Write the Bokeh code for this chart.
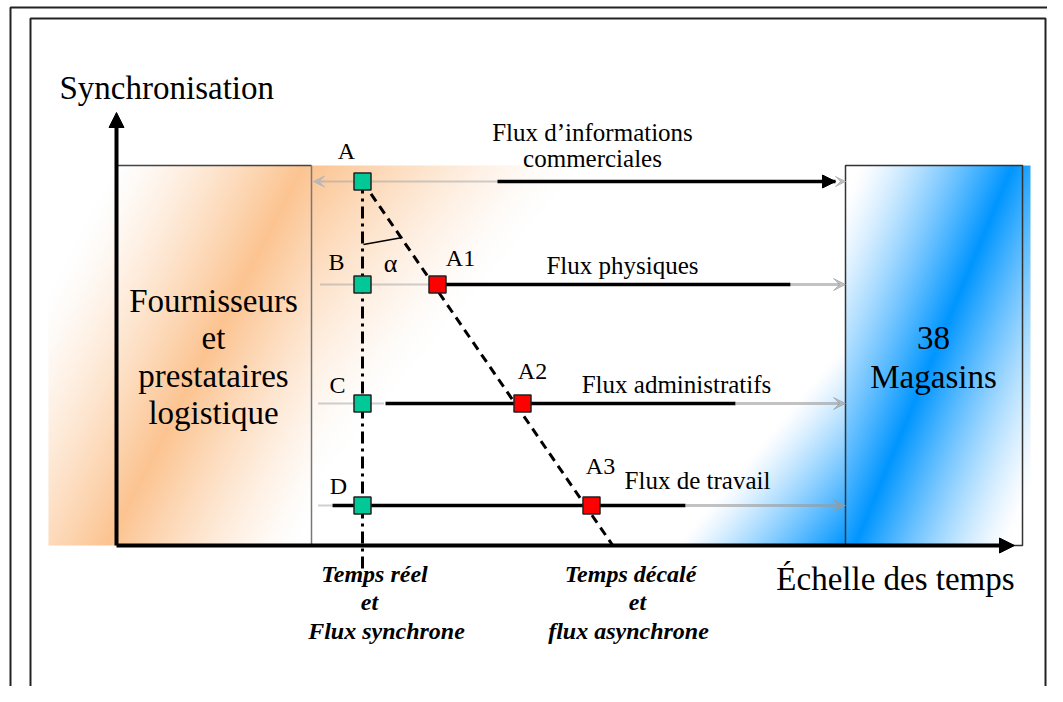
import numpy as np
from bokeh.plotting import figure
from bokeh.models import Range1d, Arrow, NormalHead, VeeHead
from bokeh.core.properties import value
from bokeh.embed import file_html
from bokeh.resources import INLINE

SERIF = value("Liberation Serif")

# ---------------- data (schematic coordinates) ----------------
sync_names = ["A", "B", "C", "D"]
flow_y = [181, 284, 403, 505]              # synchronisation level of each flow
real_time_x = 362                           # "temps réel" position
delayed_names = ["A1", "A2", "A3"]
delayed_x = [437, 522, 591]                 # delayed positions on flows B, C, D
delayed_y = flow_y[1:]

flow_titles = [["Flux d’informations", "commerciales"], ["Flux physiques"],
               ["Flux administratifs"], ["Flux de travail"]]
flow_dotted_start = [318, 320, 318, 318]
flow_dotted_end = [497, 437, 383, 332]
flow_solid_start = [497, 445, 385, 332]
flow_solid_end = [835, 790, 735, 685]
store_x = 845

# ---------------- figure ----------------
p = figure(width=1047, height=686, x_range=Range1d(0, 1047), y_range=Range1d(686, 0),
           output_backend="svg", toolbar_location=None, min_border=0,
           x_axis_type=None, y_axis_type=None)
p.outline_line_color = None
p.background_fill_color = "white"
p.border_fill_color = "white"

ORANGE = np.array([252, 196, 145], dtype=float)
BLUE = np.array([0, 150, 255], dtype=float)


def grad_image(x0, y0, w, h, weights):
    xs = x0 + np.arange(w) + 0.5
    ys = y0 + np.arange(h) + 0.5
    X, Y = np.meshgrid(xs, ys)
    wo, wb = weights(X, Y)
    img = np.empty((h, w), dtype=np.uint32)
    v = img.view(dtype=np.uint8).reshape((h, w, 4))
    for k in range(3):
        v[..., k] = np.clip(255 + (ORANGE[k] - 255) * wo + (BLUE[k] - 255) * wb, 0, 255).astype(np.uint8)
    v[..., 3] = 255
    return img


def left_w(X, Y):
    d = (X - 300) * 0.888 + (Y - 170) * 0.458
    return np.clip(1 - np.abs(d) / 165, 0, 1) ** 1.3, np.zeros_like(X)


def mid_w(X, Y):
    t = 1.2 * (X - 311) + (Y - 165)
    return np.clip(1 - t / 320, 0, 1) ** 1.4, np.clip((t - 820) / 200, 0, 1) ** 1.2


def right_w(X, Y):
    d = (X - 1012) * 0.924 + (Y - 165) * 0.383
    return np.zeros_like(X), np.clip(1 - np.abs(d) / 140, 0, 1) ** 1.3


for (x0, w, fn) in [(48, 263, left_w), (311, 534, mid_w), (845, 185, right_w)]:
    img = grad_image(x0, 165, w, 380, fn)
    r = p.image_rgba(image=[img], x=x0, y=165, dw=w, dh=380)
    r.level = "image"

# frames
p.quad(left=10, right=1075, top=7, bottom=720, fill_color=None, line_color="#222222", line_width=2)
p.quad(left=30, right=1045, top=18, bottom=720, fill_color=None, line_color="#222222", line_width=2)

# boxes
p.line([116, 311], [165, 165], line_color="#444444", line_width=1.5)
p.line([311, 311], [165, 545], line_color="#777777", line_width=1.5)
p.quad(left=store_x, right=1022, top=165, bottom=545, fill_color=None, line_color="#333333", line_width=1.5)

# flows
for i, y in enumerate(flow_y):
    p.line([flow_dotted_start[i], flow_dotted_end[i]], [y, y], line_color="#A0A0A0",
           line_width=2, line_dash="1 1")
    p.line([flow_solid_start[i], flow_solid_end[i]], [y, y], line_color="black", line_width=3.5)
    if i > 0:
        p.line([flow_solid_end[i], store_x - 6], [y, y], line_color="#999999", line_alpha=0.6, line_width=3)
        p.add_layout(Arrow(x_start=store_x - 8, y_start=y, x_end=store_x, y_end=y, line_alpha=0,
                           end=VeeHead(size=12, fill_color="#999999", fill_alpha=0.6,
                                       line_color="#999999", line_alpha=0.6)))

# flow A arrows
p.add_layout(Arrow(x_start=flow_solid_end[0] - 6, y_start=flow_y[0], x_end=flow_solid_end[0], y_end=flow_y[0],
                   line_alpha=0, end=NormalHead(size=13, fill_color="black", line_color="black")))
p.add_layout(Arrow(x_start=store_x - 6, y_start=flow_y[0], x_end=store_x, y_end=flow_y[0], line_alpha=0,
                   end=VeeHead(size=10, fill_color="#BBBBBB", line_color="#BBBBBB")))
p.add_layout(Arrow(x_start=real_time_x - 20, y_start=flow_y[0], x_end=313, y_end=flow_y[0], line_alpha=0,
                   end=VeeHead(size=11, fill_color="#B8B8B8", line_color="#B8B8B8")))

# real-time vertical and delayed diagonal
p.line([real_time_x, real_time_x], [flow_y[0], 570], line_color="black", line_width=3, line_dash="12 5 3 5")
slope = (delayed_x[-1] - real_time_x) / (delayed_y[-1] - flow_y[0])
p.line([real_time_x, real_time_x + slope * (545 - flow_y[0]) - 7], [flow_y[0], 545],
       line_color="black", line_width=3, line_dash="9 6")
p.line([363, 402], [244, 237], line_color="black", line_width=1.5)

# squares
p.scatter([real_time_x] * 4, flow_y, marker="square", size=17, fill_color="#00C896",
          line_color="#222222", line_width=1.5)
p.scatter(delayed_x, delayed_y, marker="square", size=17, fill_color="#FF0000",
          line_color="#222222", line_width=1.5)

# texts (y given as baseline in the reference; shifted for the renderer)
def txt(x, y, t, size=24, align="center", style="normal"):
    p.text(x=[x], y=[y - 0.33 * size], text=[t], text_font=SERIF, text_font_size=f"{size}px",
           text_align=align, text_baseline="alphabetic", text_color="black", text_font_style=style)

txt(59, 98, "Synchronisation", 33, "left")
txt(895, 589, "Échelle des temps", 33)
for t, y in zip(["Fournisseurs", "et", "prestataires", "logistique"], [311, 348, 386, 423]):
    txt(213, y, t, 33)
for t, y in zip(["38", "Magasins"], [348, 387]):
    txt(933, y, t, 33)

flow_label_x = [592, 622, 676, 697]
flow_label_y = [140, 273, 392, 488]
for i, lines in enumerate(flow_titles):
    for j, t in enumerate(lines):
        txt(flow_label_x[i], flow_label_y[i] + 26 * j, t, 25)

for n, x, y in zip(sync_names, [346, 336, 337, 338], [158, 269, 392, 493]):
    txt(x, y, n, 24)
for n, x, y in zip(delayed_names, [460, 532, 600], [265, 378, 473]):
    txt(x, y, n, 24)
txt(390, 272, "α", 26)

for t, x, y in zip(["Temps réel", "et", "Flux synchrone"], [374, 369, 386], [581, 609, 638]):
    txt(x, y, t, 24, style="bold italic")
for t, x, y in zip(["Temps décalé", "et", "flux asynchrone"], [630, 637, 628], [581, 609, 638]):
    txt(x, y, t, 24, style="bold italic")

# axes arrows
p.add_layout(Arrow(x_start=116, y_start=545, x_end=116, y_end=112, line_width=4, line_color="black",
                   end=NormalHead(size=15, fill_color="black", line_color="black")))
p.add_layout(Arrow(x_start=116, y_start=545, x_end=1014, y_end=545, line_width=4, line_color="black",
                   end=NormalHead(size=15, fill_color="black", line_color="black")))

open("out.html", "w").write(file_html(p, INLINE))
